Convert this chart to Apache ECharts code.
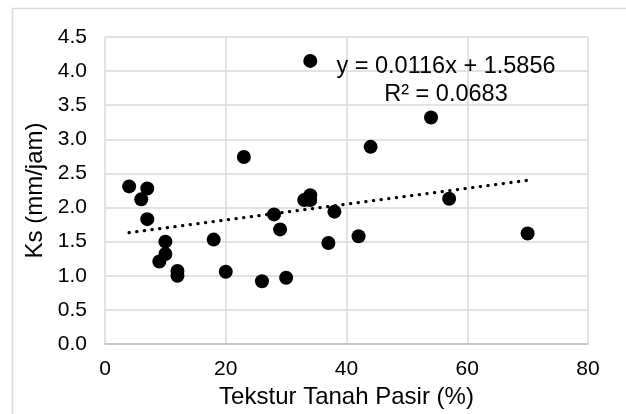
<!DOCTYPE html>
<html>
<head>
<meta charset="utf-8">
<script src="https://cdn.jsdelivr.net/npm/echarts@6/dist/echarts.min.js"></script>
<style>html,body{margin:0;padding:0;background:#fff}#c{width:626px;height:414px}</style>
</head>
<body>
<div id="c"></div>
<script>
// Data
const sandPct = [4, 6, 7, 7, 9, 10, 10, 12, 12, 18, 20, 23, 26, 28, 29, 30, 33, 34, 34, 34, 37, 38, 42, 44, 54, 57, 70];
const ksValues = [2.31, 2.12, 2.28, 1.83, 1.21, 1.50, 1.32, 1.07, 1.00, 1.53, 1.06, 2.74, 0.92, 1.90, 1.68, 0.97, 2.11, 2.18, 2.11, 4.15, 1.48, 1.94, 1.58, 2.89, 3.32, 2.13, 1.62];
const trendX = [4, 70];
const trendY = [1.632, 2.398];
const xTicks = [0, 20, 40, 60, 80];
const yTicks = [0, 0.5, 1, 1.5, 2, 2.5, 3, 3.5, 4, 4.5];
const eqLine1 = 'y = 0.0116x + 1.5856';
const eqLine2 = 'R² = 0.0683';
const xTitle = 'Tekstur Tanah Pasir (%)';
const yTitle = 'Ks (mm/jam)';

const FONT = 'Liberation Sans, Arial, sans-serif';
const chart = echarts.init(document.getElementById('c'), null, {renderer: 'canvas'});
const points = sandPct.map((x, i) => [x, ksValues[i]]);
const trend = trendX.map((x, i) => [x, trendY[i]]);

chart.setOption({
  animation: false,
  backgroundColor: '#fff',
  grid: {left: 105, right: 38, top: 37, bottom: 64, containLabel: false},
  xAxis: {
    type: 'value', min: xTicks[0], max: xTicks[xTicks.length - 1], interval: xTicks[1] - xTicks[0],
    axisLine: {show: true, lineStyle: {color: '#bfbfbf', width: 1.5}},
    axisTick: {show: false},
    splitLine: {show: true, lineStyle: {color: '#d9d9d9', width: 1.5}},
    axisLabel: {color: '#000', fontFamily: FONT, fontSize: 21, margin: 15},
    name: xTitle, nameLocation: 'middle', nameGap: 41,
    nameTextStyle: {color: '#000', fontFamily: FONT, fontSize: 24}
  },
  yAxis: {
    type: 'value', min: yTicks[0], max: yTicks[yTicks.length - 1], interval: yTicks[1] - yTicks[0],
    axisLine: {show: false},
    axisTick: {show: false},
    splitLine: {show: true, lineStyle: {color: '#d9d9d9', width: 1.5}},
    axisLabel: {color: '#000', fontFamily: FONT, fontSize: 21, margin: 18, formatter: v => v.toFixed(1)},
    name: yTitle, nameLocation: 'middle', nameGap: 58, nameRotate: 90,
    nameTextStyle: {color: '#000', fontFamily: FONT, fontSize: 24}
  },
  series: [
    {
      type: 'line', data: trend, showSymbol: false, symbol: 'none', silent: true,
      lineStyle: {color: '#000', width: 3.4, type: [0.1, 7.6], cap: 'round', opacity: 1}, z: 2
    },
    {
      type: 'scatter', data: points, symbol: 'circle', symbolSize: 14,
      itemStyle: {color: '#000', opacity: 1}, z: 3
    }
  ],
  graphic: [
    {type: 'rect', shape: {x: 12.5, y: 8.5, width: 800, height: 600}, style: {fill: null, stroke: '#d9d9d9', lineWidth: 1.5}, silent: true, z: -1},
    {type: 'text', x: 446, y: 67, style: {text: eqLine1, font: '23.5px ' + FONT, fill: '#000', align: 'center', verticalAlign: 'middle'}, z: 10},
    {type: 'text', x: 446, y: 95, style: {text: eqLine2, font: '23.5px ' + FONT, fill: '#000', align: 'center', verticalAlign: 'middle'}, z: 10}
  ]
});
</script>
</body>
</html>
